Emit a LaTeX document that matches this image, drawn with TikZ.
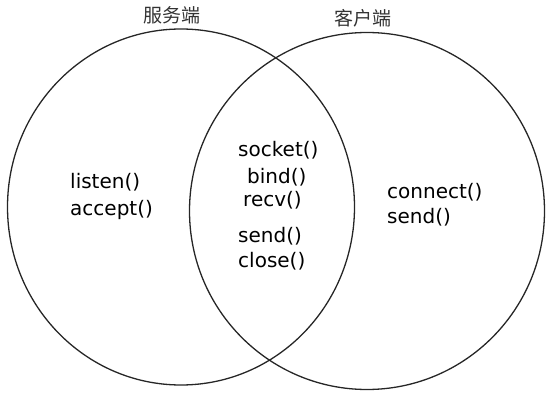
\documentclass[tikz,border=0pt]{standalone}
\usepackage{fontspec}
\setmainfont{DejaVu Sans}
\newfontfamily\cjk{Noto Sans CJK SC}
\usetikzlibrary{shapes.geometric}
\begin{document}
\begin{tikzpicture}[x=1pt,y=-1pt,
  ring/.style={draw=black!85, line width=1.3pt, ellipse, inner sep=0pt},
  code/.style={anchor=west, inner sep=0pt, font=\fontsize{20}{22}\selectfont},
  title/.style={inner sep=0pt, font=\cjk\fontsize{19}{21}\selectfont, text=black!80}]
\useasboundingbox (0,0) rectangle (549,406);
\node[ring, minimum width=347pt, minimum height=356pt] (server) at (181,207) {};
\node[ring, minimum width=355pt, minimum height=357pt] (client) at (367,211) {};
\node[title] (st) at (172,15) {服务端};
\node[title] (ct) at (363,18) {客户端};
\node[code] (listen) at (70,182) {listen()};
\node[code] (accept) at (70,210) {accept()};
\node[code] (socket) at (238,150) {socket()};
\node[code] (bind) at (247,177) {bind()};
\node[code] (recv) at (243,200) {recv()};
\node[code] (send1) at (238,236) {send()};
\node[code] (close) at (238,261) {close()};
\node[code] (connect) at (387,192) {connect()};
\node[code] (send2) at (387,217) {send()};
\end{tikzpicture}
\end{document}
